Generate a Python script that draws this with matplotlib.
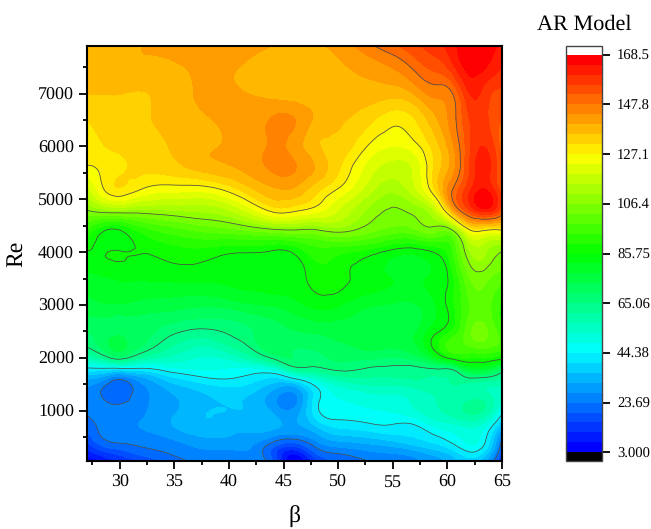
import numpy as np
import matplotlib
matplotlib.use('Agg')
import matplotlib.pyplot as plt
import matplotlib.tri as mtri
from matplotlib.colors import LinearSegmentedColormap, BoundaryNorm

plt.rcParams['font.family'] = ['Liberation Serif', 'DejaVu Serif']
plt.rcParams['text.hinting'] = 'none'

beta = [27, 28.5, 30, 32, 35, 38, 41, 44, 46, 48, 50, 53, 55, 57, 59, 60.5, 62, 63.5, 65]
re = [50, 200, 400, 700, 1000, 1300, 1600, 1800, 2000, 2500, 3000, 3500, 4000, 4400, 4800,
      5200, 5600, 6000, 6500, 7000, 7500, 7900]

# AR values, one row per Re, one column per beta
ar = [
    [4, 8, 12, 16, 21.5, 25, 25, 20, 3.5, 14, 20, 24, 25, 27, 30, 34, 38, 32, 14],
    [9, 14, 17, 21, 24.5, 27, 27, 18, 8, 20, 24, 27, 28, 30, 34, 38, 43.5, 38, 18],
    [15, 22, 24, 25, 27, 30, 30, 23.5, 20, 27, 31, 33, 35, 38, 41, 45, 49, 44, 22],
    [21, 25, 26.5, 28, 32, 35, 33, 33, 31, 36, 41, 43, 43.5, 43.5, 49, 51, 53, 49, 34],
    [24.8, 25.5, 25, 27, 31.5, 36, 36, 31, 29, 43, 47, 48, 49, 52, 56, 59, 62, 60, 47],
    [27, 23, 21, 26.5, 32, 36, 37, 30, 27, 42, 49, 52, 52.5, 54, 57, 58, 59, 58, 54],
    [32, 29, 24, 30, 39, 43.5, 43.5, 39, 43.5, 52, 58, 60, 60, 61, 60, 61.5, 64, 63, 60],
    [43.5, 44, 44, 44, 48, 49, 48, 51, 63, 64, 66.5, 64.5, 64, 64, 65.5, 67, 78, 78, 70],
    [57, 62, 67, 60, 55, 52, 56, 65.8, 69, 68, 70, 70, 69, 71, 80, 88, 90, 90, 88],
    [69.5, 71, 72, 71, 66, 64, 67, 72, 73, 74, 75, 76, 76, 77, 85, 91, 101, 103, 95],
    [76, 77, 77, 76, 75, 74, 76, 78, 80, 83, 82, 78, 77, 77, 82, 89, 98, 100, 93],
    [80, 81, 82, 82, 82.5, 82.5, 82.5, 83, 84, 87.5, 87.5, 83.5, 81.5, 81, 82.5, 89, 102, 103.5, 100],
    [85.5, 85.4, 86, 85.9, 88, 88, 86, 85, 86.5, 92, 91, 87.5, 84, 83, 86.5, 94, 110, 111, 106],
    [93, 86, 85.2, 91, 96, 99, 101, 104, 105, 105, 107.5, 103, 100, 101, 103, 105.5, 125, 126, 126],
    [106.5, 110, 111, 110, 111, 112, 118, 129, 128.5, 125, 119, 109, 106, 108, 118, 140, 156, 163, 152],
    [117, 127, 131, 127.3, 125, 125.5, 132, 139, 139, 133, 127, 116, 112, 118, 133, 147.8, 159, 164, 153],
    [126.5, 128, 130.3, 132, 134, 137.5, 140, 144.5, 144, 139, 132, 120.5, 117, 120, 133, 142, 156, 162, 151],
    [128.5, 131, 132.5, 133.5, 136, 139, 141, 144, 142, 136, 134, 126, 123, 125.5, 134, 143, 155, 160, 150],
    [131.3, 133, 133.5, 134.5, 137.5, 139.2, 141.5, 144.2, 143.8, 138.5, 136, 132, 128.5, 131, 139, 146, 156, 157, 152],
    [135.5, 135.5, 135.5, 135.2, 137.5, 140.5, 140, 138, 137, 137, 137, 137.5, 137, 140, 145, 148, 160, 158, 155],
    [137.5, 138, 138, 138.5, 139, 140.5, 139.5, 137, 136.5, 136.5, 138.5, 141.5, 144, 149, 153.5, 159, 166, 164.5, 160],
    [139, 139.5, 139.5, 139.5, 141, 142, 141.5, 139.5, 138.5, 139, 141, 147, 151, 155, 158.5, 163, 167, 166, 164],
]

cbar_ticks = [3.0, 23.69, 44.38, 65.06, 85.75, 106.4, 127.1, 147.8, 168.5]
cbar_labels = ['3.000', '23.69', '44.38', '65.06', '85.75', '106.4', '127.1', '147.8', '168.5']
line_levels = [23.69, 44.38, 65.06, 85.75, 106.4, 127.1, 147.8]

# grid -> triangles, refined so the contours come out smooth
X, Y = np.meshgrid(beta, re)
Z = np.array(ar, dtype=float)
nx, ny = len(beta), len(re)
tris = []
for j in range(ny - 1):
    for i in range(nx - 1):
        a = j * nx + i
        tris.append([a, a + 1, a + nx])
        tris.append([a + 1, a + nx + 1, a + nx])
tri = mtri.Triangulation(X.ravel(), Y.ravel(), tris)
refiner = mtri.UniformTriRefiner(tri)
tri_f, z_f = refiner.refine_field(Z.ravel(), subdiv=3)

levels = np.linspace(3, 168.5, 41)
cmap = LinearSegmentedColormap.from_list('rainbow_origin', ['#0000ff', '#00ffff', '#00ff00', '#ffff00', '#ff0000'], N=40)
cmap.set_under('black')
cmap.set_over('white')
norm = BoundaryNorm(levels, 40)

fig = plt.figure(figsize=(6.51, 5.29), dpi=100)
W, H = 651.0, 529.0
ax = fig.add_axes([87 / W, 1 - 461 / H, 415 / W, 415 / H])

cs = ax.tricontourf(tri_f, z_f, levels=levels, cmap=cmap, norm=norm, extend='both')
ax.tricontour(tri_f, z_f, levels=line_levels, colors='#4a4a4a', linewidths=0.55)

ax.set_xlim(27, 65)
ax.set_ylim(50, 7900)
ax.set_xticks(range(30, 70, 5))
ax.set_xticks(np.arange(27.5, 65, 5), minor=True)
ax.set_yticks(range(1000, 8000, 1000))
ax.set_yticks(range(500, 8000, 1000), minor=True)
ax.tick_params(which='major', length=5.8, width=1.3, labelsize=13)
ax.tick_params(which='minor', length=3, width=1.3)
for s in ax.spines.values():
    s.set_linewidth(1.5)
ax.set_xlabel('\u03b2', fontsize=17, labelpad=11)
ax.set_ylabel('Re', fontsize=17, labelpad=8)

# colorbar
cax = fig.add_axes([566 / W, 1 - 461 / H, 36 / W, 415 / H])
cb = fig.colorbar(cs, cax=cax, extend='both', extendrect=True, extendfrac=0.022,
                  spacing='proportional', drawedges=False)
cb.set_ticks(cbar_ticks)
cb.set_ticklabels(cbar_labels)
cb.minorticks_off()
cax.tick_params(length=5.8, width=1.3, labelsize=10.5, pad=5)
cb.outline.set_linewidth(1)
cb.outline.set_edgecolor('#444444')
fig.text(584 / W, 1 - 24 / H, 'AR Model', fontsize=16, ha='center', va='center')

fig.savefig('out.png', dpi=100)
